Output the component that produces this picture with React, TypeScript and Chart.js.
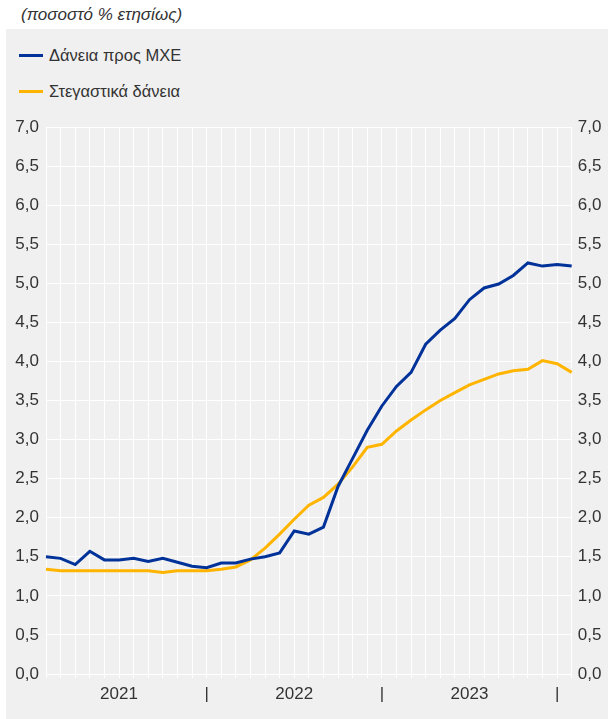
import React, { useEffect, useRef } from "react";
import { Chart, registerables } from "chart.js";

Chart.register(...registerables);

const categories = [
  "2021-01", "2021-02", "2021-03", "2021-04", "2021-05", "2021-06",
  "2021-07", "2021-08", "2021-09", "2021-10", "2021-11", "2021-12",
  "2022-01", "2022-02", "2022-03", "2022-04", "2022-05", "2022-06",
  "2022-07", "2022-08", "2022-09", "2022-10", "2022-11", "2022-12",
  "2023-01", "2023-02", "2023-03", "2023-04", "2023-05", "2023-06",
  "2023-07", "2023-08", "2023-09", "2023-10", "2023-11", "2023-12",
  "2024-01",
];

const smeLoans = [
  1.50, 1.48, 1.40, 1.57, 1.46, 1.46, 1.48, 1.44, 1.48, 1.43, 1.38, 1.36,
  1.42, 1.42, 1.47, 1.50, 1.55, 1.83, 1.79, 1.88, 2.40, 2.76, 3.12, 3.43,
  3.68, 3.86, 4.22, 4.40, 4.55, 4.79, 4.94, 4.99, 5.10, 5.26, 5.22, 5.24,
  5.22,
];

const housingLoans = [
  1.34, 1.32, 1.32, 1.32, 1.32, 1.32, 1.32, 1.32, 1.30, 1.32, 1.32, 1.32,
  1.34, 1.37, 1.46, 1.61, 1.79, 1.98, 2.16, 2.26, 2.43, 2.65, 2.90, 2.94,
  3.11, 3.25, 3.38, 3.50, 3.60, 3.70, 3.77, 3.84, 3.88, 3.90, 4.01, 3.97,
  3.86,
];

const xTickText: Record<string, string> = {
  "2021-06": "2021",
  "2021-12": "|",
  "2022-06": "2022",
  "2022-12": "|",
  "2023-06": "2023",
  "2023-12": "|",
};

const seriesNames = ["Δάνεια προς ΜΧΕ", "Στεγαστικά δάνεια"];
const seriesColors = ["#003299", "#ffb400"];
const title = "(ποσοστό % ετησίως)";

const FONT = "'Liberation Sans', Arial, sans-serif";
const TEXT = "#333333";

export default function App() {
  const ref = useRef<HTMLCanvasElement | null>(null);

  useEffect(() => {
    if (!ref.current) return;
    const tickFont = { family: FONT, size: 17 };
    const yTick = (v: any) => Number(v).toFixed(1).replace(".", ",");
    const chart = new Chart(ref.current, {
      type: "line",
      data: {
        labels: categories,
        datasets: [
          {
            label: seriesNames[0],
            data: smeLoans,
            borderColor: seriesColors[0],
            backgroundColor: seriesColors[0],
            borderWidth: 3,
            pointRadius: 0,
            tension: 0,
            yAxisID: "y",
          },
          {
            label: seriesNames[1],
            data: housingLoans,
            borderColor: seriesColors[1],
            backgroundColor: seriesColors[1],
            borderWidth: 3,
            pointRadius: 0,
            tension: 0,
            yAxisID: "y",
          },
        ],
      },
      options: {
        responsive: false,
        animation: false,
        layout: { padding: { top: 98, left: 0, right: 0, bottom: 0 } },
        plugins: {
          legend: { display: false },
          tooltip: { enabled: false },
        },
        scales: {
          x: {
            type: "category",
            offset: false,
            grid: {
              color: "#ffffff",
              lineWidth: 1,
              drawTicks: true,
              tickLength: 4,
              tickColor: "#ffffff",
            },
            border: { color: "#ffffff" },
            ticks: {
              autoSkip: false,
              maxRotation: 0,
              minRotation: 0,
              padding: 6,
              color: TEXT,
              font: tickFont,
              callback: (_v: any, i: number) => xTickText[categories[i]] ?? "",
            },
            afterFit: (s: any) => {
              s.height = 45;
            },
          },
          y: {
            position: "left",
            min: 0,
            max: 7,
            grid: { color: "#ffffff", lineWidth: 1, drawTicks: false },
            border: { display: false },
            ticks: {
              stepSize: 0.5,
              padding: 7,
              color: TEXT,
              font: tickFont,
              callback: yTick,
            },
            afterFit: (s: any) => {
              s.width = 40;
            },
          },
          y2: {
            position: "right",
            min: 0,
            max: 7,
            grid: { display: false, drawTicks: false },
            border: { display: false },
            ticks: {
              stepSize: 0.5,
              padding: 6,
              color: TEXT,
              font: tickFont,
              callback: yTick,
            },
            afterFit: (s: any) => {
              s.width = 36.3;
            },
          },
        },
      },
    });
    return () => chart.destroy();
  }, []);

  const legendItem = (i: number, top: number) => (
    <div
      key={i}
      style={{
        position: "absolute",
        left: 13,
        top,
        height: 20,
        display: "flex",
        alignItems: "center",
      }}
    >
      <div
        style={{
          width: 24,
          height: 3,
          background: seriesColors[i],
          marginRight: 6,
        }}
      />
      <span style={{ fontFamily: FONT, fontSize: 16.5, color: TEXT, whiteSpace: "nowrap" }}>
        {seriesNames[i]}
      </span>
    </div>
  );

  return (
    <div
      style={{
        position: "absolute",
        left: 0,
        top: 0,
        width: 608,
        height: 719,
        background: "#ffffff",
        overflow: "hidden",
      }}
    >
      <div
        style={{
          position: "absolute",
          left: 21,
          top: 5,
          fontFamily: FONT,
          fontStyle: "italic",
          fontSize: 17,
          color: TEXT,
          whiteSpace: "nowrap",
        }}
      >
        {title}
      </div>
      <div
        style={{
          position: "absolute",
          left: 6,
          top: 29,
          width: 602,
          height: 690,
          background: "#f0f0f0",
        }}
      >
        {legendItem(0, 16)}
        {legendItem(1, 52)}
        <canvas
          ref={ref}
          width={602}
          height={690}
          style={{ position: "absolute", left: 0, top: 0, width: 602, height: 690 }}
        />
      </div>
    </div>
  );
}
